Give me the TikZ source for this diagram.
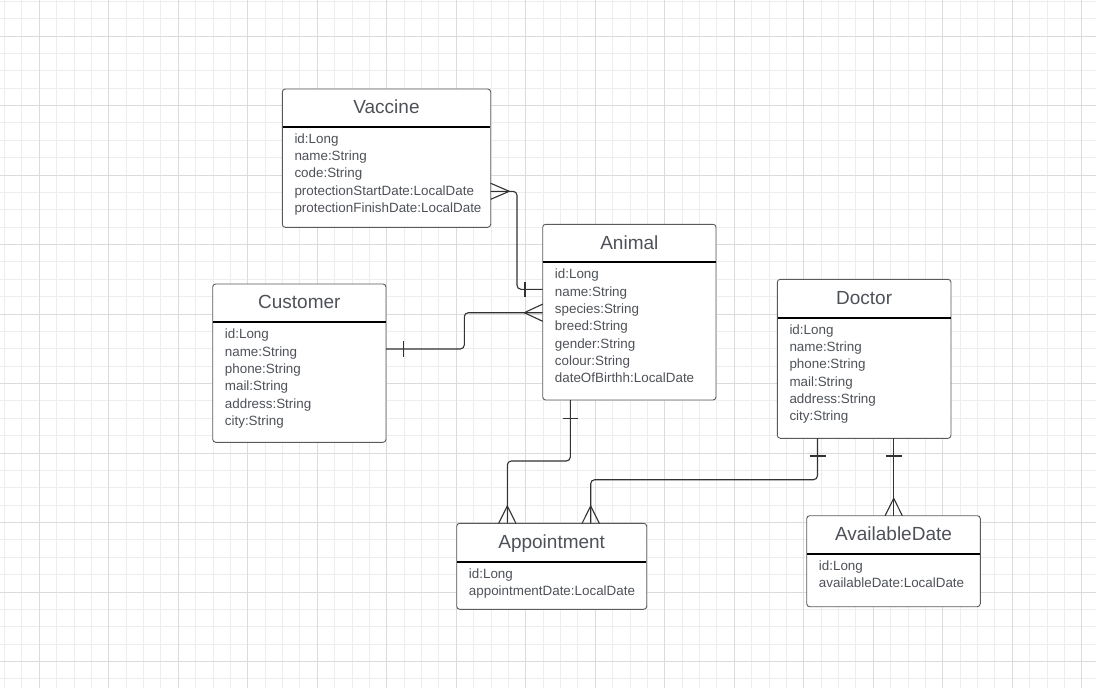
\documentclass[tikz,border=0pt]{standalone}
\usepackage{fontspec}
\setmainfont{Liberation Sans}
\usetikzlibrary{calc}
\definecolor{gridminor}{RGB}{237,237,237}
\definecolor{gridmajor}{RGB}{219,219,219}
\definecolor{textc}{RGB}{78,82,88}
\definecolor{boxline}{RGB}{90,90,90}
\definecolor{connc}{RGB}{50,50,50}
\tikzset{
  entbox/.style={draw=boxline, fill=white, line width=0.9pt, rounded corners=3pt, inner sep=0pt, outer sep=0pt},
  divider/.style={draw=black, line width=2pt},
  titletext/.style={text=textc, font=\fontsize{19}{22}\selectfont, inner sep=0pt, anchor=base},
  attrtext/.style={text=textc, font=\fontsize{13.4}{16}\selectfont, inner sep=0pt, anchor=base west},
  conn/.style={draw=connc, line width=1.1pt, rounded corners=4pt},
  ermark/.style={draw=connc, line width=1.1pt},
}
\newcommand\erbox[8]{%
  \node[entbox, minimum width=#4pt, minimum height=#5pt, anchor=north west] (#1) at (#2,#3) {};
  \draw[divider] ($(#1.north west)+(0.5,#6)$) -- ($(#1.north east)+(-0.5,#6)$);
  \node[titletext] (#1-title) at ($(#1.north)+(0,#6/2+5.8)$) {#7};
  \foreach [count=\k] \a in {#8} {
    \node[attrtext] (#1-a\k) at ($(#1.north west)+(12,#6+16.5+17.33*\k-17.33)$) {\a};
  }
}
\begin{document}
\begin{tikzpicture}[x=1pt,y=-1pt]
\useasboundingbox (0,0) rectangle (1096,688);
\fill[white] (0,0) rectangle (1096,688);
% grid
\foreach \i in {0,...,62} { \draw[gridminor, line width=1pt] ({4.5+17.375*\i},0) -- ({4.5+17.375*\i},688); }
\foreach \j in {0,...,39} { \draw[gridminor, line width=1pt] (0,{1.25+17.375*\j}) -- (1096,{1.25+17.375*\j}); }
\foreach \i in {0,...,15} { \draw[gridmajor, line width=1pt] ({39.25+69.5*\i},0) -- ({39.25+69.5*\i},688); }
\foreach \j in {0,...,9} { \draw[gridmajor, line width=1pt] (0,{36+69.5*\j}) -- (1096,{36+69.5*\j}); }

% entities
\erbox{vac}{282.3}{89}{208.4}{138.3}{37.7}{Vaccine}{id:Long,name:String,code:String,protectionStartDate:LocalDate,protectionFinishDate:LocalDate}
\erbox{ani}{542.7}{224.3}{173.3}{175.7}{38}{Animal}{id:Long,name:String,species:String,breed:String,gender:String,colour:String,dateOfBirthh:LocalDate}
\erbox{cus}{212.7}{284}{173.3}{158.3}{38.3}{Customer}{id:Long,name:String,phone:String,mail:String,address:String,city:String}
\erbox{doc}{777.3}{279.3}{173.7}{159}{38.4}{Doctor}{id:Long,name:String,phone:String,mail:String,address:String,city:String}
\erbox{app}{456.7}{523.3}{190}{86}{38.4}{Appointment}{id:Long,appointmentDate:LocalDate}
\erbox{adt}{806.7}{515.7}{173.6}{91}{38.3}{AvailableDate}{id:Long,availableDate:LocalDate}

% connector end points
\coordinate (va1) at ($(vac.north east)+(0,102.3)$);
\coordinate (an1) at ($(ani.north west)+(0,65)$);
\coordinate (cu1) at ($(cus.north east)+(0,65)$);
\coordinate (an2) at ($(ani.north west)+(0,88.4)$);
\coordinate (an3) at ($(ani.south west)+(27.6,0)$);
\coordinate (ap1) at ($(app.north west)+(50.6,0)$);
\coordinate (do1) at ($(doc.south west)+(40.2,0)$);
\coordinate (ap2) at ($(app.north west)+(134,0)$);
\coordinate (do2) at ($(doc.south west)+(116.4,0)$);
\coordinate (ad1) at ($(adt.north west)+(87,0)$);

% connectors
\draw[conn] (va1) -- ++(26.3,0) |- (an1);
\draw[conn] (cu1) -- ++(78.3,0) |- (an2);
\draw[conn] (an3) -- ++(0,61) -| (ap1);
\draw[conn] (do1) -- ++(0,41.4) -| (ap2);
\draw[conn] (do2) -- (ad1);

% crow's feet (many)
\draw[ermark] ($(va1)+(0,-8)$) -- ($(va1)+(18.6,0)$) -- ($(va1)+(0,8)$);
\draw[ermark] ($(an2)+(0,-8.6)$) -- ($(an2)+(-18.4,0)$) -- ($(an2)+(0,8.6)$);
\draw[ermark] ($(ap1)+(-8.6,0)$) -- ($(ap1)+(0,-17.3)$) -- ($(ap1)+(8.6,0)$);
\draw[ermark] ($(ap2)+(-8.6,0)$) -- ($(ap2)+(0,-17.3)$) -- ($(ap2)+(8.6,0)$);
\draw[ermark] ($(ad1)+(-8.6,0)$) -- ($(ad1)+(0,-17.4)$) -- ($(ad1)+(8.6,0)$);

% bars (one)
\draw[ermark] ($(an1)+(-17.7,-7.5)$) -- ($(an1)+(-17.7,7.5)$);
\draw[ermark] ($(cu1)+(17.3,-8)$) -- ($(cu1)+(17.3,8)$);
\draw[ermark] ($(an3)+(-7.8,18.3)$) -- ($(an3)+(7.8,18.3)$);
\draw[ermark] ($(do1)+(-8,17.7)$) -- ($(do1)+(8,17.7)$);
\draw[ermark] ($(do2)+(-8,17.7)$) -- ($(do2)+(8,17.7)$);
\end{tikzpicture}
\end{document}
